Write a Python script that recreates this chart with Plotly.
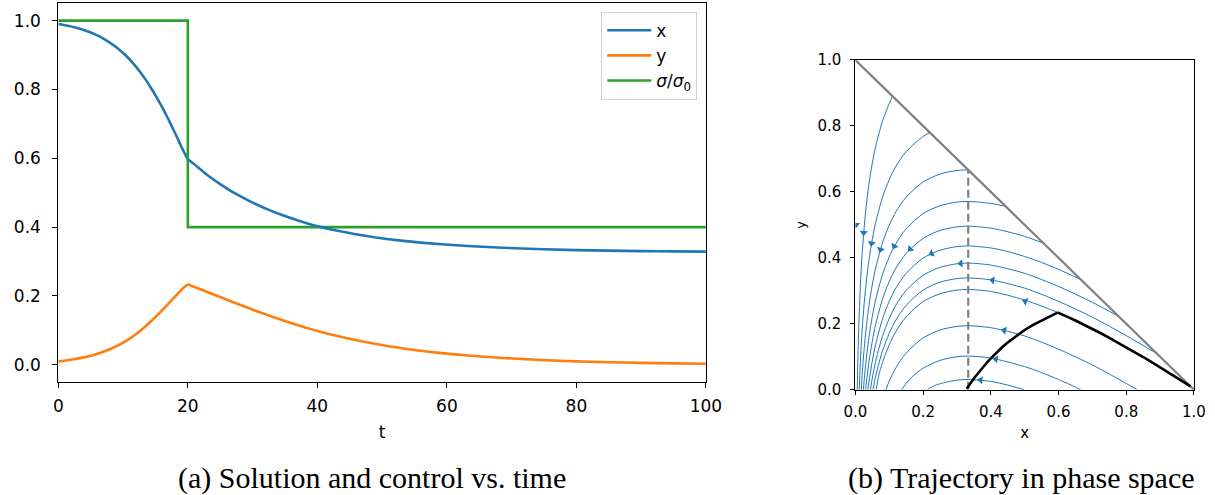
import plotly.graph_objects as go

# ---------------- time series ----------------
t_pre = [0, 1.47, 2.62, 4.37, 5.69, 6.76, 8.81, 10.35, 11.60, 12.66, 13.61, 14.46, 15.25, 15.98,
         16.68, 17.34, 17.98, 18.61, 19.22, 20]
x_pre = [0.99, 0.985, 0.98, 0.97, 0.96, 0.95, 0.925, 0.90, 0.875, 0.85, 0.825, 0.80, 0.775, 0.75,
         0.725, 0.70, 0.675, 0.65, 0.625, 0.597]
y_pre = [0.01, 0.0133, 0.0166, 0.0232, 0.0297, 0.0363, 0.0524, 0.0682, 0.0838, 0.0992, 0.1142, 0.1290,
         0.1434, 0.1575, 0.1712, 0.1845, 0.1973, 0.2098, 0.2217, 0.234]

t_post = [20, 21.5, 23.1, 25.0, 27.1, 29.6, 32.5, 34.55, 36.9, 38.6, 40.6, 42.95, 45.7, 49.05, 53.3,
          55.95, 59.2, 63.2, 68.6, 75, 80, 85, 90, 95, 100]
x_post = [0.597, 0.575, 0.55, 0.525, 0.50, 0.475, 0.45, 0.435, 0.42, 0.41, 0.40, 0.39, 0.38, 0.37, 0.36,
          0.355, 0.35, 0.345, 0.34, 0.3356, 0.3333, 0.3316, 0.3304, 0.3295, 0.3288]
y_post = [0.234, 0.2226, 0.2106, 0.1968, 0.1812, 0.1634, 0.1433, 0.1301, 0.1159, 0.1058, 0.0952, 0.0841,
          0.0725, 0.0602, 0.0474, 0.0407, 0.0339, 0.0269, 0.0198, 0.0135, 0.0100, 0.0074, 0.0055, 0.0041, 0.0030]

t_ctrl = [0, 20, 100]
sigma_ratio = [1.0, 0.4, 0.4]

# ---------------- phase-space streamlines ----------------
stream_x = [
    [0.00555, 0.006, 0.008, 0.01, 0.015, 0.02, 0.03, 0.04, 0.05, 0.06, 0.08, 0.1, 0.11],
    [0.0114, 0.015, 0.02, 0.03, 0.04, 0.05, 0.06, 0.08, 0.1, 0.12, 0.15, 0.2, 0.22],
    [0.0177, 0.02, 0.025, 0.03, 0.04, 0.05, 0.06, 0.08, 0.1, 0.12, 0.15, 0.2, 0.25, 0.3, 0.3333],
    [0.0239, 0.025, 0.03, 0.04, 0.05, 0.06, 0.08, 0.1, 0.12, 0.15, 0.2, 0.25, 0.3, 0.3333, 0.4, 0.444],
    [0.0303, 0.035, 0.04, 0.05, 0.06, 0.08, 0.1, 0.12, 0.15, 0.2, 0.25, 0.3, 0.3333, 0.4, 0.45, 0.5, 0.556],
    [0.0371, 0.04, 0.05, 0.06, 0.08, 0.1, 0.12, 0.15, 0.2, 0.25, 0.3, 0.3333, 0.4, 0.45, 0.5, 0.55, 0.6, 0.666],
    [0.0446, 0.05, 0.06, 0.07, 0.08, 0.1, 0.12, 0.15, 0.2, 0.25, 0.3, 0.3333, 0.4, 0.5, 0.6, 0.7, 0.778],
    [0.052, 0.06, 0.07, 0.08, 0.1, 0.12, 0.15, 0.2, 0.25, 0.3, 0.3333, 0.4, 0.5, 0.6, 0.7, 0.8, 0.891],
    [0.0613, 0.07, 0.08, 0.1, 0.12, 0.15, 0.2, 0.25, 0.3, 0.3333, 0.4, 0.5, 0.6, 0.7, 0.8, 0.9, 0.95, 0.99],
    [0.0904, 0.1, 0.12, 0.15, 0.2, 0.25, 0.3, 0.3333, 0.4, 0.5, 0.6, 0.7, 0.8, 0.832],
    [0.137, 0.15, 0.17, 0.2, 0.25, 0.3, 0.3333, 0.4, 0.5, 0.55, 0.6, 0.65, 0.6656],
    [0.2123, 0.23, 0.25, 0.3, 0.3333, 0.4, 0.45, 0.498],
]
stream_y = [
    [0.0, 0.024, 0.118, 0.190, 0.321, 0.412, 0.537, 0.623, 0.687, 0.738, 0.814, 0.868, 0.89],
    [0.0, 0.090, 0.181, 0.306, 0.392, 0.456, 0.507, 0.583, 0.637, 0.678, 0.722, 0.768, 0.780],
    [0.0, 0.043, 0.112, 0.168, 0.254, 0.318, 0.369, 0.445, 0.499, 0.540, 0.584, 0.630, 0.654, 0.665, 0.667],
    [0.0, 0.016, 0.072, 0.158, 0.222, 0.273, 0.349, 0.403, 0.444, 0.488, 0.534, 0.558, 0.569, 0.571, 0.565, 0.556],
    [0.0, 0.043, 0.083, 0.147, 0.198, 0.274, 0.328, 0.369, 0.413, 0.459, 0.483, 0.494, 0.496, 0.490, 0.479, 0.465, 0.444],
    [0.0, 0.023, 0.087, 0.138, 0.214, 0.268, 0.309, 0.353, 0.399, 0.423, 0.434, 0.436, 0.430, 0.419, 0.404, 0.386, 0.365, 0.334],
    [0.0, 0.035, 0.086, 0.127, 0.162, 0.216, 0.257, 0.301, 0.347, 0.371, 0.382, 0.384, 0.378, 0.353, 0.313, 0.265, 0.222],
    [0.0, 0.041, 0.082, 0.117, 0.171, 0.212, 0.256, 0.302, 0.326, 0.337, 0.339, 0.333, 0.308, 0.268, 0.220, 0.164, 0.109],
    [0.0, 0.047, 0.082, 0.136, 0.177, 0.221, 0.267, 0.291, 0.302, 0.304, 0.298, 0.272, 0.233, 0.184, 0.129, 0.068, 0.036, 0.010],
    [0.0, 0.026, 0.067, 0.111, 0.157, 0.181, 0.192, 0.194, 0.188, 0.163, 0.123, 0.075, 0.019, 0.0],
    [0.0, 0.019, 0.041, 0.065, 0.089, 0.100, 0.102, 0.096, 0.070, 0.052, 0.031, 0.008, 0.0],
    [0.0, 0.0106, 0.018, 0.029, 0.031, 0.025, 0.014, 0.0],
]

arrow_x = [0.002, 0.0246, 0.048, 0.074, 0.115, 0.162, 0.225, 0.311, 0.405, 0.502, 0.44, 0.415, 0.37]
arrow_y = [0.50, 0.476, 0.444, 0.425, 0.435, 0.427, 0.413, 0.383, 0.332, 0.268, 0.180, 0.093, 0.029]
arrow_angle = [180, -175, -170, -164, -152, -137, -116, -94, -80, -71, -76, -79, -84]

boundary_x = [0.0, 1.0]
boundary_y = [1.0, 0.0]
threshold_x = [1 / 3, 1 / 3]
threshold_y = [0.0, 2 / 3]

BLUE, ORANGE, GREEN = "#1f77b4", "#ff7f0e", "#2ca02c"

fig = go.Figure()

# ---- left panel ----
fig.add_trace(go.Scatter(x=t_pre, y=x_pre, mode="lines", name="x", legendgroup="x",
                         line=dict(color=BLUE, width=2.6, shape="spline", smoothing=1.0),
                         xaxis="x", yaxis="y"))
fig.add_trace(go.Scatter(x=t_pre, y=y_pre, mode="lines", name="y", legendgroup="y",
                         line=dict(color=ORANGE, width=2.6, shape="spline", smoothing=1.0),
                         xaxis="x", yaxis="y"))
fig.add_trace(go.Scatter(x=t_ctrl, y=sigma_ratio, mode="lines",
                         name="<i>σ</i>/<i>σ</i><sub>0</sub>", legendgroup="s",
                         line=dict(color=GREEN, width=2.6, shape="hv"),
                         xaxis="x", yaxis="y"))
fig.add_trace(go.Scatter(x=t_post, y=x_post, mode="lines", name="x", legendgroup="x", showlegend=False,
                         line=dict(color=BLUE, width=2.6, shape="spline", smoothing=1.0),
                         xaxis="x", yaxis="y"))
fig.add_trace(go.Scatter(x=t_post, y=y_post, mode="lines", name="y", legendgroup="y", showlegend=False,
                         line=dict(color=ORANGE, width=2.6, shape="spline", smoothing=1.0),
                         xaxis="x", yaxis="y"))

# ---- right panel ----
for sx, sy in zip(stream_x, stream_y):
    fig.add_trace(go.Scatter(x=sx, y=sy, mode="lines", showlegend=False, hoverinfo="skip",
                             line=dict(color=BLUE, width=1, shape="spline", smoothing=0.8),
                             xaxis="x2", yaxis="y2"))
fig.add_trace(go.Scatter(x=arrow_x, y=arrow_y, mode="markers", showlegend=False,
                         marker=dict(symbol="triangle-up", size=7, color=BLUE, angle=arrow_angle,
                                     line=dict(width=0)),
                         xaxis="x2", yaxis="y2"))
fig.add_trace(go.Scatter(x=boundary_x, y=boundary_y, mode="lines", showlegend=False,
                         line=dict(color="#808080", width=2.2), xaxis="x2", yaxis="y2"))
fig.add_trace(go.Scatter(x=threshold_x, y=threshold_y, mode="lines", showlegend=False,
                         line=dict(color="#808080", width=2.2, dash="8px,4px"), xaxis="x2", yaxis="y2"))
fig.add_trace(go.Scatter(x=x_pre, y=y_pre, mode="lines", showlegend=False,
                         line=dict(color="black", width=2.6), xaxis="x2", yaxis="y2"))
fig.add_trace(go.Scatter(x=x_post, y=y_post, mode="lines", showlegend=False,
                         line=dict(color="black", width=2.6), xaxis="x2", yaxis="y2"))

axis_common = dict(showline=True, mirror=True, linecolor="black", linewidth=1,
                   ticks="outside", tickcolor="black", tickwidth=1,
                   showgrid=False, zeroline=False, automargin=False)

fig.update_layout(
    width=1215, height=495,
    margin=dict(l=0, r=0, t=0, b=0, autoexpand=False),
    paper_bgcolor="white", plot_bgcolor="white",
    font=dict(family="DejaVu Sans", size=17, color="black"),
    xaxis=dict(domain=[0.048, 0.581], range=[0, 100], tickvals=[0, 20, 40, 60, 80, 100],
               ticklen=5, tickfont=dict(size=17), ticklabelstandoff=4,
               title=dict(text="t", font=dict(size=17), standoff=10), anchor="y", **axis_common),
    yaxis=dict(domain=[0.2283, 0.9931], range=[-0.05, 1.05], tickvals=[0, 0.2, 0.4, 0.6, 0.8, 1.0],
               tickformat=".1f", ticklen=5, tickfont=dict(size=17), ticklabelstandoff=8,
               anchor="x", **axis_common),
    xaxis2=dict(domain=[0.704, 0.9827], range=[0, 1], tickvals=[0, 0.2, 0.4, 0.6, 0.8, 1.0],
                tickformat=".1f", ticklen=4, tickfont=dict(size=15), ticklabelstandoff=4,
                title=dict(text="x", font=dict(size=15), standoff=7), anchor="y2", **axis_common),
    yaxis2=dict(domain=[0.2127, 0.8788], range=[0, 1], tickvals=[0, 0.2, 0.4, 0.6, 0.8, 1.0],
                tickformat=".1f", ticklen=4, tickfont=dict(size=15), ticklabelstandoff=6,
                title=dict(text="y", font=dict(size=13), standoff=8), anchor="x2", **axis_common),
    legend=dict(x=0.5739, y=0.9764, xanchor="right", yanchor="top",
                bgcolor="rgba(255,255,255,0.85)", bordercolor="#d0d0d0", borderwidth=1,
                font=dict(size=17), itemwidth=44, tracegroupgap=0),
    annotations=[
        dict(text="(a) Solution and control vs. time", x=0.306, y=0.034, xref="paper", yref="paper",
             xanchor="center", yanchor="middle",
             showarrow=False, font=dict(family="Liberation Serif", size=30, color="black")),
        dict(text="(b) Trajectory in phase space", x=0.841, y=0.034, xref="paper", yref="paper",
             xanchor="center", yanchor="middle",
             showarrow=False, font=dict(family="Liberation Serif", size=30, color="black")),
    ],
)

fig.write_html("out.html", config={"displayModeBar": False},
               post_script="document.body.style.margin='0';")
